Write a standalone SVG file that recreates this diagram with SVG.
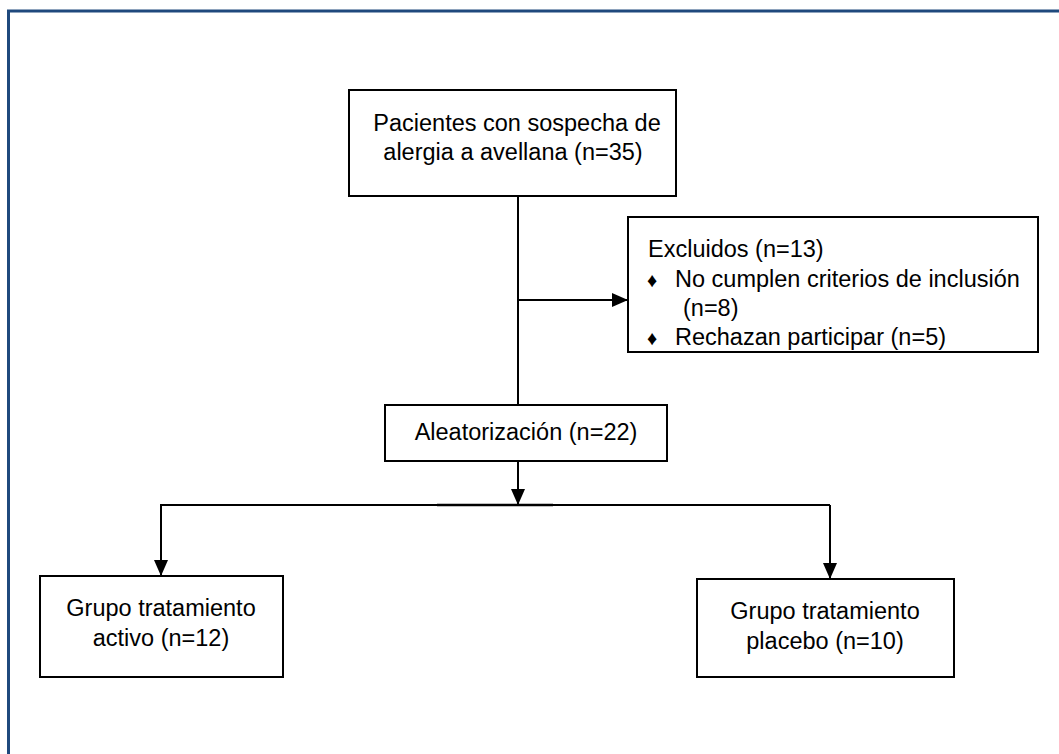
<svg xmlns="http://www.w3.org/2000/svg" width="1059" height="754" viewBox="0 0 1059 754">
<style>
.box{fill:#fff;stroke:#000;stroke-width:2}
.ln{fill:none;stroke:#000;stroke-width:2}
text{font-family:"Liberation Sans",Arial,sans-serif;font-size:23.5px;fill:#000}
.c{text-anchor:middle}
.b{font-size:20px}
</style>
<defs>
<marker id="ah" viewBox="0 0 16 14" refX="16" refY="7" markerWidth="16" markerHeight="14" markerUnits="userSpaceOnUse" orient="auto">
<path d="M0,0 L16,7 L0,14 Z" fill="#000"/>
</marker>
</defs>
<rect x="0" y="0" width="1059" height="754" fill="#fff"/>
<path d="M8.5,754 V11 H1059" fill="none" stroke="#1F497D" stroke-width="3"/>
<g id="connectors">
<line class="ln" x1="518" y1="196" x2="518" y2="405"/>
<line class="ln" x1="518" y1="300" x2="628" y2="300" marker-end="url(#ah)"/>
<line class="ln" x1="518" y1="461" x2="518" y2="505" marker-end="url(#ah)"/>
<line class="ln" x1="160" y1="505" x2="830" y2="505"/>
<line x1="437" y1="505" x2="553" y2="505" stroke="#000" stroke-width="2.6"/>
<line class="ln" x1="161" y1="505" x2="161" y2="576" marker-end="url(#ah)"/>
<line class="ln" x1="830" y1="505" x2="830" y2="579" marker-end="url(#ah)"/>
</g>
<g id="n1">
<rect class="box" x="349" y="90" width="327" height="106"/>
<text class="c" x="517" y="131">Pacientes con sospecha de</text>
<text class="c" x="513" y="160">alergia a avellana (n=35)</text>
</g>
<g id="n2">
<rect class="box" x="628" y="217" width="410" height="135"/>
<text x="648" y="257">Excluidos (n=13)</text>
<text x="647" y="287" class="b">♦</text>
<text x="675" y="287">No cumplen criterios de inclusión</text>
<text x="683" y="316">(n=8)</text>
<text x="647" y="345" class="b">♦</text>
<text x="675" y="345">Rechazan participar (n=5)</text>
</g>
<g id="n3">
<rect class="box" x="385" y="405" width="282" height="56"/>
<text class="c" x="526" y="440">Aleatorización (n=22)</text>
</g>
<g id="n4">
<rect class="box" x="40" y="576" width="243" height="101"/>
<text class="c" x="161" y="616">Grupo tratamiento</text>
<text class="c" x="161" y="646">activo (n=12)</text>
</g>
<g id="n5">
<rect class="box" x="697" y="579" width="257" height="98"/>
<text class="c" x="825" y="619">Grupo tratamiento</text>
<text class="c" x="825" y="649">placebo (n=10)</text>
</g>
</svg>
